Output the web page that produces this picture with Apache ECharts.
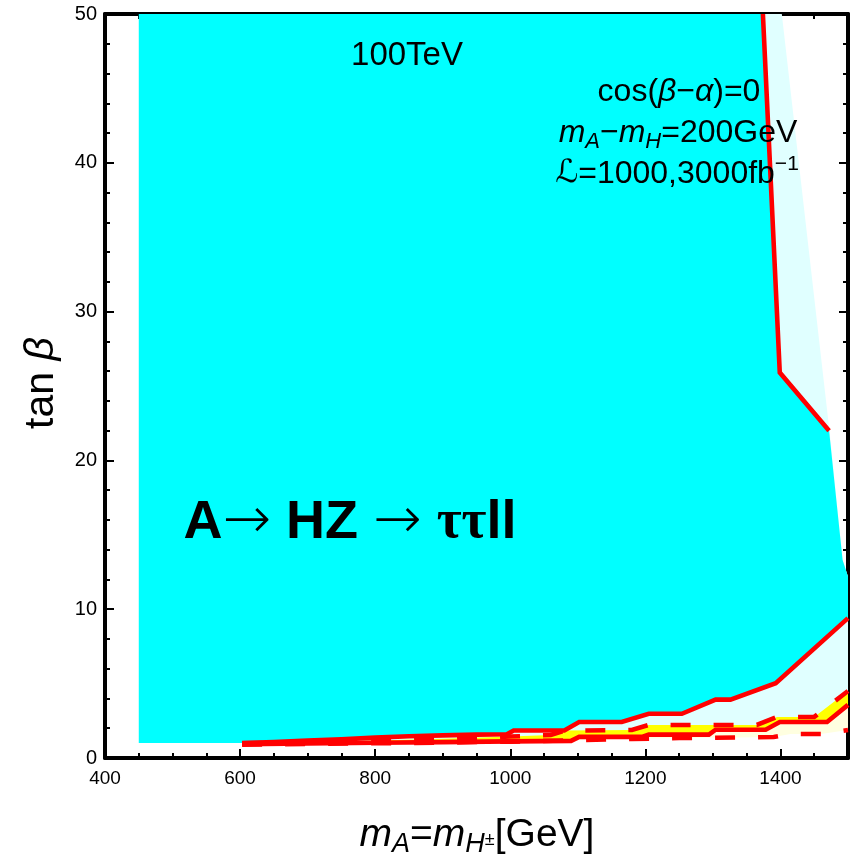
<!DOCTYPE html>
<html>
<head>
<meta charset="utf-8">
<script src="https://cdn.jsdelivr.net/npm/echarts@6/dist/echarts.min.js"></script>
<style>
  html, body { margin: 0; padding: 0; background: #ffffff; }
  #chart { width: 854px; height: 854px; }
</style>
</head>
<body>
<div id="chart"></div>
<script>
// Reach of A -> HZ -> tau tau l l at 100 TeV in the (m_A, tan beta) plane.

// Solid contours (low tan beta band)
const mA_upperSolid = [603, 650, 700, 750, 800, 850, 900, 950, 995, 1005, 1080, 1102, 1165, 1205, 1254, 1304, 1326, 1393, 1500];
const tb_upperSolid = [1.0, 1.07, 1.17, 1.25, 1.37, 1.46, 1.52, 1.57, 1.6, 1.85, 1.85, 2.42, 2.42, 2.97, 2.97, 3.92, 3.92, 5.03, 9.4];

const mA_lowerSolid = [603, 700, 800, 900, 1000, 1090, 1102, 1195, 1205, 1294, 1304, 1378, 1399, 1469, 1500];
const tb_lowerSolid = [0.93, 0.97, 1.02, 1.07, 1.12, 1.15, 1.42, 1.42, 1.57, 1.57, 1.9, 1.9, 2.42, 2.42, 3.57];

// Dashed contours
const mA_upperDashed = [603, 700, 800, 900, 1000, 1060, 1080, 1180, 1205, 1365, 1395, 1450, 1500];
const tb_upperDashed = [0.98, 1.06, 1.17, 1.3, 1.44, 1.55, 1.84, 1.88, 2.22, 2.22, 2.76, 2.76, 4.5];

const mA_lowerDashed = [603, 700, 800, 900, 1000, 1100, 1180, 1250, 1300, 1390, 1415, 1460, 1500];
const tb_lowerDashed = [0.9, 0.94, 0.99, 1.04, 1.1, 1.2, 1.28, 1.34, 1.36, 1.41, 1.61, 1.61, 1.88];

// High tan beta contour (solid red) and outer edge of the light region
const mA_highEdge = [1374, 1399, 1472];
const tb_highEdge = [50, 25.9, 22.0];
const mA_outerEdge = [1402, 1473, 1492, 1500];
const tb_outerEdge = [50, 21.8, 13.3, 12.2];

// Scan range of the filled region
const mA_scanMin = 450;
const tb_scanMin = 1;
const tb_scanMax = 50;

// Axis ticks
const xMin = 400, xMax = 1500, xMajor = 200, xMinor = 50;
const yMin = 0, yMax = 50, yMajor = 10, yMinorSplit = 5;

const pts = (xs, ys) => xs.map((x, i) => [x, ys[i]]);
const rev = a => a.slice().reverse();

const upperSolid = pts(mA_upperSolid, tb_upperSolid);
const lowerSolid = pts(mA_lowerSolid, tb_lowerSolid);
const upperDashed = pts(mA_upperDashed, tb_upperDashed);
const lowerDashed = pts(mA_lowerDashed, tb_lowerDashed);
const highEdge = pts(mA_highEdge, tb_highEdge);
const outerEdge = pts(mA_outerEdge, tb_outerEdge);

// Regions
const darkRegion = [[mA_scanMin, tb_scanMin], [mA_scanMin, tb_scanMax]]
  .concat(highEdge, outerEdge.slice(2), rev(upperSolid));
const lightRegion = [highEdge[0]].concat(outerEdge, rev(lowerSolid));
const yellowBand = upperDashed.concat(rev(lowerSolid));
const creamBand = lowerSolid.concat(rev(lowerDashed));

function area(points, color, z) {
  return {
    type: 'custom',
    xAxisIndex: 0, yAxisIndex: 0,
    z: z, silent: true, clip: true,
    data: [points[0]],
    renderItem: (params, api) => ({
      type: 'polygon',
      shape: { points: points.map(p => api.coord(p)) },
      style: { fill: color, stroke: null }
    })
  };
}

function curve(points, dashed, z) {
  return {
    type: 'line',
    xAxisIndex: 0, yAxisIndex: 0,
    z: z, silent: true, clip: true,
    data: points,
    symbol: 'none', showSymbol: false,
    lineStyle: { color: '#ff0000', width: 4.6, type: dashed ? [20, 23] : 'solid', cap: 'butt', join: 'miter' }
  };
}

const FONT = "'Liberation Sans', Arial, Helvetica, sans-serif";
const black = '#000000';

function xAxisDef(position, interval, tickLen, showLabel, showLine) {
  return {
    type: 'value', position: position, min: xMin, max: xMax, interval: interval,
    axisLine: { show: showLine, onZero: false, lineStyle: { color: black, width: 4 } },
    axisTick: { show: true, inside: true, length: tickLen, lineStyle: { color: black, width: 2 } },
    axisLabel: {
      show: showLabel, margin: 11, color: black, fontFamily: FONT, fontSize: 19,
      formatter: v => (v % xMajor === 0 && v < xMax) ? String(v) : ''
    },
    splitLine: { show: false }
  };
}

function yAxisDef(position, showLabel) {
  return {
    type: 'value', position: position, min: yMin, max: yMax, interval: yMajor,
    axisLine: { show: true, onZero: false, lineStyle: { color: black, width: 4 } },
    axisTick: { show: true, inside: true, length: 9, lineStyle: { color: black, width: 2 } },
    minorTick: { show: true, splitNumber: yMinorSplit, length: 5, lineStyle: { color: black, width: 2 } },
    axisLabel: { show: showLabel, margin: 8, color: black, fontFamily: FONT, fontSize: 20 },
    splitLine: { show: false }
  };
}

const chart = echarts.init(document.getElementById('chart'), null, { renderer: 'canvas' });

chart.setOption({
  animation: false,
  backgroundColor: '#ffffff',
  grid: { left: 105, right: 6, top: 14, bottom: 96, containLabel: false },
  xAxis: [
    xAxisDef('bottom', xMajor, 9, true, true),
    xAxisDef('bottom', xMinor, 5, false, false),
    xAxisDef('top', xMajor, 9, false, true),
    xAxisDef('top', xMinor, 5, false, false)
  ],
  yAxis: [
    yAxisDef('left', true),
    yAxisDef('right', false)
  ],
  series: [
    area(lightRegion, '#e0ffff', 1),
    area(yellowBand, '#ffff00', 2),
    area(creamBand, '#ffffe0', 3),
    area(darkRegion, '#00ffff', 4),
    curve(lowerDashed, true, 5),
    curve(upperDashed, true, 5),
    curve(lowerSolid, false, 6),
    curve(upperSolid, false, 6),
    curve(highEdge, false, 6)
  ],
  graphic: [
    {
      type: 'text', x: 407, y: 56, z: 100,
      style: { text: '100TeV', font: `33px ${FONT}`, fill: black, align: 'center', verticalAlign: 'middle' }
    },
    {
      type: 'text', x: 679, y: 92, z: 100,
      style: {
        text: '{r|cos(}{i|β}{r|−}{i|α}{r|)=0}',
        align: 'center', verticalAlign: 'middle',
        rich: {
          r: { fontFamily: FONT, fontSize: 32, fill: black, lineHeight: 40 },
          i: { fontFamily: FONT, fontSize: 32, fontStyle: 'italic', fill: black, lineHeight: 40 }
        }
      }
    },
    {
      type: 'text', x: 678, y: 133, z: 100,
      style: {
        text: '{i|m}{s|A}{r|−}{i|m}{s|H}{r|=200GeV}',
        align: 'center', verticalAlign: 'middle',
        rich: {
          r: { fontFamily: FONT, fontSize: 32, fill: black, lineHeight: 40 },
          i: { fontFamily: FONT, fontSize: 32, fontStyle: 'italic', fill: black, lineHeight: 40 },
          s: { fontFamily: FONT, fontSize: 22, fontStyle: 'italic', fill: black, lineHeight: 18, verticalAlign: 'bottom' }
        }
      }
    },
    {
      type: 'text', x: 677, y: 174, z: 100,
      style: {
        text: '{c|ℒ}{r|=1000,3000fb}{p|−1}',
        align: 'center', verticalAlign: 'middle',
        rich: {
          c: { fontFamily: "'DejaVu Sans', " + FONT, fontSize: 32, fontStyle: 'italic', fill: black, lineHeight: 40 },
          r: { fontFamily: FONT, fontSize: 32, fill: black, lineHeight: 40 },
          p: { fontFamily: FONT, fontSize: 21, fill: black, lineHeight: 18, verticalAlign: 'top' }
        }
      }
    },
    {
      type: 'text', x: 350, y: 523, z: 100,
      style: {
        text: '{b|A}{a|→}{b| HZ }{a|→}{b| }{t|ττ}{b|ll}',
        align: 'center', verticalAlign: 'middle',
        rich: {
          b: { fontFamily: FONT, fontSize: 54, fontWeight: 'bold', fill: black, lineHeight: 60 },
          a: { fontFamily: "'DejaVu Sans', " + FONT, fontSize: 58, fontWeight: 200, fill: black, lineHeight: 60 },
          t: { fontFamily: "'Liberation Serif', 'DejaVu Serif', serif", fontSize: 54, fontWeight: 'bold', fill: black, lineHeight: 60 }
        }
      }
    },
    {
      type: 'text', x: 477, y: 835, z: 100,
      style: {
        text: '{i|m}{s|A}{r|=}{i|m}{s|H}{q|±}{r|[GeV]}',
        align: 'center', verticalAlign: 'middle',
        rich: {
          r: { fontFamily: FONT, fontSize: 39, fill: black, lineHeight: 46 },
          i: { fontFamily: FONT, fontSize: 39, fontStyle: 'italic', fill: black, lineHeight: 46 },
          s: { fontFamily: FONT, fontSize: 27, fontStyle: 'italic', fill: black, lineHeight: 21, verticalAlign: 'bottom' },
          q: { fontFamily: FONT, fontSize: 18, fill: black, lineHeight: 21, verticalAlign: 'bottom', padding: [0, 0, 9, 0] }
        }
      }
    },
    {
      type: 'text', x: 42, y: 383, z: 100, rotation: Math.PI / 2,
      style: {
        text: '{r|tan }{i|β}',
        align: 'center', verticalAlign: 'middle',
        rich: {
          r: { fontFamily: FONT, fontSize: 41, fill: black, lineHeight: 48 },
          i: { fontFamily: FONT, fontSize: 41, fontStyle: 'italic', fill: black, lineHeight: 48 }
        }
      }
    }
  ]
});
</script>
</body>
</html>
